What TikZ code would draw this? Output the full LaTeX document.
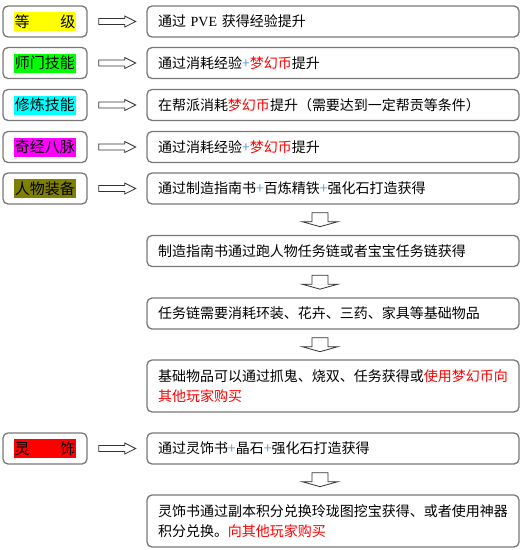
\documentclass[tikz,border=0pt]{standalone}
\usepackage{fontspec}
\setmainfont{Noto Sans CJK SC}
\newfontfamily\latserif{Liberation Serif}
\usetikzlibrary{calc}
\definecolor{bordergray}{RGB}{120,120,120}
\definecolor{plusblue}{RGB}{100,160,215}
\definecolor{olivehl}{RGB}{128,128,0}
\definecolor{hlyellow}{RGB}{255,255,0}
\definecolor{hlgreen}{RGB}{0,255,0}
\definecolor{hlcyan}{RGB}{0,255,255}
\definecolor{hlmagenta}{RGB}{255,0,255}
\definecolor{hlred}{RGB}{255,0,0}
\definecolor{txtred}{RGB}{255,0,0}
\newcommand\pl{\textcolor{plusblue}{+}}
\newcommand\rd[1]{\textcolor{txtred}{#1}}
\newcommand\rarr[2]{\draw[blk] ($(#1.east)+(11,3)$) -- ++(26,0) -- ++(0,2.5) -- ++(11,-5.5) -- ++(-11,-5.5) -- ++(0,2.5) -- ++(-26,0) -- cycle;}
\newcommand\darr[1]{\draw[blk] ($(#1.south)+(-21,-8)$) -- ++(16,0) -- ++(0,-9) -- ++(10,0) -- ++(-18,-5) -- ++(-18,5) -- ++(10,0) -- cycle;}
\begin{document}
\begin{tikzpicture}[x=1pt,y=1pt,
  lbox/.style={draw=bordergray, line width=1.3pt, rounded corners=5pt, minimum width=84pt, minimum height=31pt, inner sep=0pt},
  rbox/.style={draw=bordergray, line width=1.3pt, rounded corners=5pt, minimum width=372pt, minimum height=31pt, text width=350pt, inner xsep=11pt, inner ysep=0pt, align=left, font=\fontsize{14}{20.5}\selectfont},
  hl/.style={minimum width=62pt, minimum height=19pt, inner sep=0pt, font=\fontsize{15}{15}\selectfont},
  blk/.style={draw=black!80, line width=0.8pt, fill=white}]
\useasboundingbox (0,0) rectangle (523,-550);
% left labels
\node[lbox] (L1) at (45,-21.5) {};
\node[hl, fill=hlyellow] (H1) at (L1) {\makebox[61pt][s]{等\hfill{}级}};
\node[lbox] (L2) at (45,-63) {};
\node[hl, fill=hlgreen] (H2) at (L2) {师门技能};
\node[lbox] (L3) at (45,-105) {};
\node[hl, fill=hlcyan] (H3) at (L3) {修炼技能};
\node[lbox] (L4) at (45,-147) {};
\node[hl, fill=hlmagenta] (H4) at (L4) {奇经八脉};
\node[lbox] (L5) at (45,-188.5) {};
\node[hl, fill=olivehl] (H5) at (L5) {人物装备};
\node[lbox] (L9) at (45,-448.5) {};
\node[hl, fill=hlred] (H9) at (L9) {\makebox[61pt][s]{灵\hfill{}饰}};
% right boxes
\node[rbox] (R1) at (333,-21.5) {通过 {\latserif PVE} 获得经验提升};
\node[rbox] (R2) at (333,-63) {通过消耗经验\pl{}\rd{梦幻币}提升};
\node[rbox] (R3) at (333,-105) {在帮派消耗\rd{梦幻币}提升（需要达到一定帮贡等条件）};
\node[rbox] (R4) at (333,-147) {通过消耗经验\pl{}\rd{梦幻币}提升};
\node[rbox] (R5) at (333,-188.5) {通过制造指南书\pl{}百炼精铁\pl{}强化石打造获得};
\node[rbox] (B6) at (333,-251) {制造指南书通过跑人物任务链或者宝宝任务链获得};
\node[rbox] (B7) at (333,-313.5) {任务链需要消耗环装、花卉、三药、家具等基础物品};
\node[rbox, minimum height=52pt] (B8) at (333,-386) {基础物品可以通过抓鬼、烧双、任务获得或\rd{使用梦幻币向}\\\rd{其他玩家购买}};
\node[rbox] (R9) at (333,-448.5) {通过灵饰书\pl{}晶石\pl{}强化石打造获得};
\node[rbox, minimum height=52pt] (B10) at (333,-521) {灵饰书通过副本积分兑换玲珑图挖宝获得、或者使用神器\\积分兑换。\rd{向其他玩家购买}};
% arrows
\rarr{L1}{R1}
\rarr{L2}{R2}
\rarr{L3}{R3}
\rarr{L4}{R4}
\rarr{L5}{R5}
\rarr{L9}{R9}
\darr{R5}
\darr{B6}
\darr{B7}
\darr{R9}
\end{tikzpicture}
\end{document}
